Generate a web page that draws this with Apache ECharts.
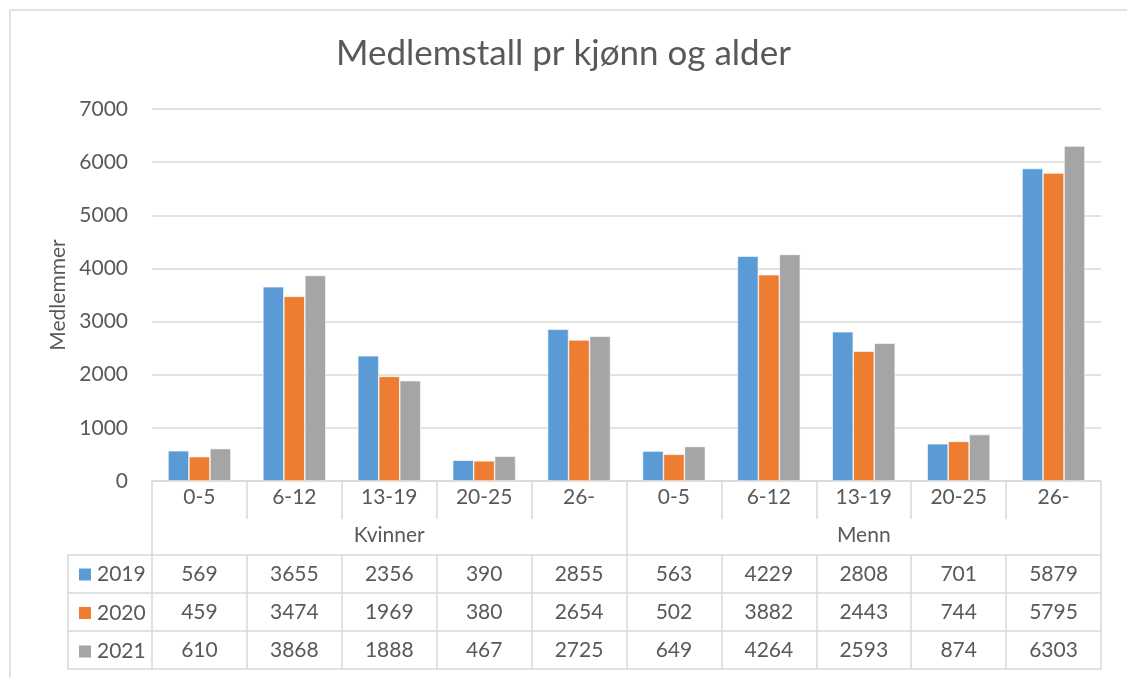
<!DOCTYPE html>
<html>
<head>
<meta charset="utf-8">
<script src="https://cdn.jsdelivr.net/npm/echarts@6/dist/echarts.min.js"></script>
<style>html,body{margin:0;padding:0;background:#fff}#c{width:1127px;height:678px}</style>
</head>
<body>
<div id="c"></div>
<script>
const ages = ['0-5', '6-12', '13-19', '20-25', '26-', '0-5', '6-12', '13-19', '20-25', '26-'];
const groups = ['Kvinner', 'Menn'];
const seriesNames = ['2019', '2020', '2021'];
const v2019 = [569, 3655, 2356, 390, 2855, 563, 4229, 2808, 701, 5879];
const v2020 = [459, 3474, 1969, 380, 2654, 502, 3882, 2443, 744, 5795];
const v2021 = [610, 3868, 1888, 467, 2725, 649, 4264, 2593, 874, 6303];
const yTicks = { min: 0, max: 7000, interval: 1000 };
const title = 'Medlemstall pr kjønn og alder';
const yName = 'Medlemmer';

const colors = ['#5B9BD5', '#ED7D31', '#A5A5A5'];
const values = [v2019, v2020, v2021];
const FONT = 'Lato';
const TXT = '#595959';
const LINE = '#d9d9d9';
const FS = 21;

const chart = echarts.init(document.getElementById('c'), null, { renderer: 'canvas' });

const gridL = 152, gridR = 26, gridT = 109, gridB = 197;
const rowH = 38;

function tableAxis(data, offset, labelShow, tickLen, lineShow) {
  return {
    type: 'category', gridIndex: 0, position: 'bottom', offset: offset,
    data: data, boundaryGap: true,
    axisLine: { show: lineShow, lineStyle: { color: LINE, width: 1.5 } },
    axisTick: { show: tickLen > 0, length: tickLen, interval: 0, lineStyle: { color: LINE, width: 1.5 } },
    axisLabel: { show: labelShow, interval: 0, margin: 9, color: TXT, fontFamily: FONT, fontSize: FS },
    splitLine: { show: false }, silent: true
  };
}

const xAxes = [
  {
    type: 'category', gridIndex: 0, position: 'bottom', data: ages, boundaryGap: true,
    axisLine: { show: true, lineStyle: { color: LINE, width: 1.5 } },
    axisTick: { show: true, length: 38, interval: 0, lineStyle: { color: LINE, width: 1.5 } },
    axisLabel: { interval: 0, margin: 6, color: TXT, fontFamily: FONT, fontSize: FS }
  },
  tableAxis(groups, 37, true, 37, false),
  tableAxis(values[0].map(String), 74, true, rowH, true),
  tableAxis(values[1].map(String), 74 + rowH, true, rowH, true),
  tableAxis(values[2].map(String), 74 + 2 * rowH, true, rowH, true),
  tableAxis(ages, 74 + 3 * rowH, false, 0, true)
];
xAxes[1].axisLabel.margin = 7;

const tableTop = 678 - gridB + 74;
const legendLeft = 68;

chart.setOption({
  color: colors,
  animation: false,
  title: {
    text: title, left: 'center', top: 31,
    textStyle: { color: TXT, fontFamily: FONT, fontSize: 35, fontWeight: 'normal' }
  },
  legend: {
    data: seriesNames, orient: 'vertical', left: 72, top: tableTop + 4,
    itemWidth: 14, itemHeight: 14, itemGap: 17.5, icon: 'rect',
    textStyle: { color: TXT, fontFamily: FONT, fontSize: FS },
    selectedMode: false
  },
  grid: { left: gridL, right: gridR, top: gridT, bottom: gridB, containLabel: false },
  xAxis: xAxes,
  yAxis: {
    type: 'value', min: yTicks.min, max: yTicks.max, interval: yTicks.interval,
    name: yName, nameLocation: 'middle', nameGap: 83, nameRotate: 90,
    nameTextStyle: { color: TXT, fontFamily: FONT, fontSize: 21 },
    axisLine: { show: false }, axisTick: { show: false },
    axisLabel: { color: TXT, fontFamily: FONT, fontSize: FS, margin: 24, formatter: v => String(v) },
    splitLine: { lineStyle: { color: LINE, width: 1.5 } }
  },
  series: seriesNames.map((n, i) => ({
    name: n, type: 'bar', xAxisIndex: 0, yAxisIndex: 0,
    data: values[i], barGap: '0%', barCategoryGap: '33.7%',
    itemStyle: { color: colors[i], borderColor: '#ffffff', borderWidth: 0.6 }
  })),
  graphic: [
    { type: 'rect', silent: true, shape: { x: 10, y: 10, width: 1140, height: 700 },
      style: { fill: 'none', stroke: LINE, lineWidth: 1.5 } },
    { type: 'polyline', silent: true,
      shape: { points: [[gridL, tableTop], [legendLeft, tableTop], [legendLeft, tableTop + 3 * rowH], [gridL, tableTop + 3 * rowH]] },
      style: { fill: 'none', stroke: LINE, lineWidth: 1.5 } },
    { type: 'line', silent: true, shape: { x1: legendLeft, y1: tableTop + rowH, x2: gridL, y2: tableTop + rowH },
      style: { stroke: LINE, lineWidth: 1.5 } },
    { type: 'line', silent: true, shape: { x1: legendLeft, y1: tableTop + 2 * rowH, x2: gridL, y2: tableTop + 2 * rowH },
      style: { stroke: LINE, lineWidth: 1.5 } }
  ]
});
</script>
</body>
</html>
